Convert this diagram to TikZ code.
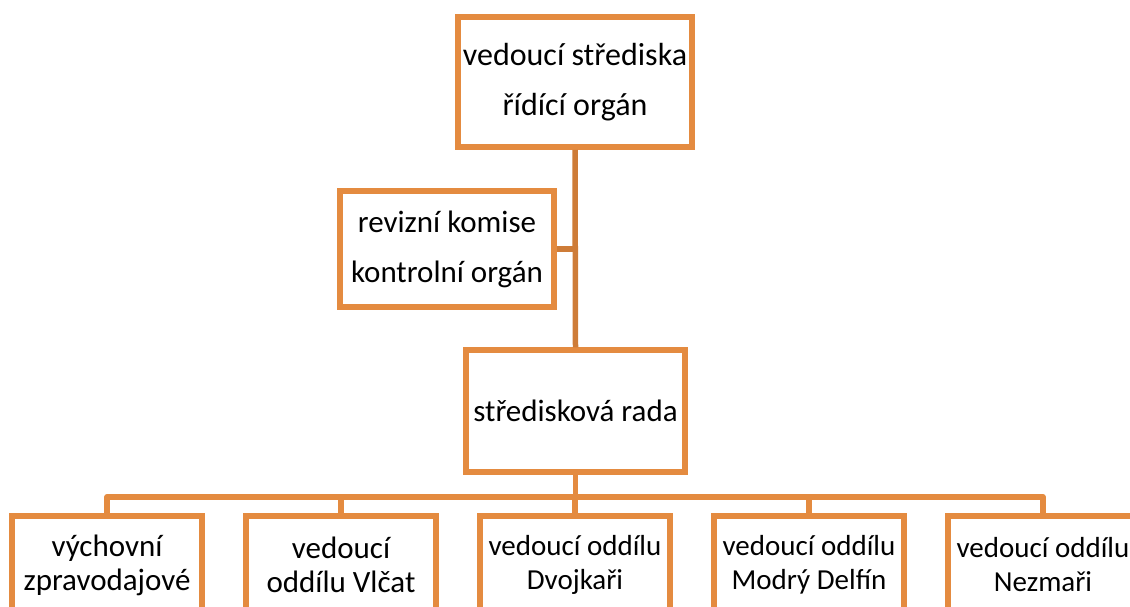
\documentclass[tikz,border=0pt]{standalone}
\usepackage{fontspec}
\setmainfont{Carlito}
\usetikzlibrary{positioning}

\definecolor{boxorange}{RGB}{228,139,64}
\definecolor{lineorange}{RGB}{206,124,56}

\begin{document}
\begin{tikzpicture}[
x=1pt,
y=-1pt,
unit/.style={
  draw=boxorange,
  fill=white,
  line width=5.5pt,
  align=center,
  inner sep=0pt
  },
upper/.style={
  unit,
  font=\fontsize{32}{50}\selectfont
  },
lower/.style={
  unit,
  minimum width=190pt,
  minimum height=98pt
  },
link/.style={
  draw=lineorange,
  line width=5.5pt,
  line join=round
  }
]

\useasboundingbox (0,0) rectangle (1130,606);
\clip (0,0) rectangle (1130,606);

\node[upper, minimum width=234pt, minimum height=130pt] (lead) at (575,82)
  {vedoucí střediska\\řídící orgán};
\node[upper, font=\fontsize{31}{50}\selectfont,
  minimum width=214pt, minimum height=116pt] (rev) at (447,249)
  {revizní komise\\kontrolní orgán};
\node[upper, font=\fontsize{31}{50}\selectfont,
  minimum width=219pt, minimum height=122pt] (council) at (575.5,411)
  {středisková rada};

\foreach \txt/\fs [count=\i] in {
  {výchovní\\zpravodajové}/31,
  {vedoucí\\oddílu Vlčat}/31,
  {vedoucí oddílu\\Dvojkaři}/29,
  {vedoucí oddílu\\Modrý Delfín}/29,
  {vedoucí oddílu\\Nezmaři}/29}
  \node[lower, font=\fontsize{\fs}{34}\selectfont] (o\i) at ({107+234*(\i-1)},565) {\txt};

% connectors
\draw[link] (lead.south) -- (council.north);
\draw[link] (rev.east) -- (rev.east -| lead.south);
\coordinate (bus) at ([yshift=-22pt]council.south);
\draw[link, draw=boxorange] (council.south) -- (bus);
\draw[link, draw=boxorange] (o1.north) |- (bus) -| (o5.north);
\foreach \i in {2,3,4}
  \draw[link, draw=boxorange] (bus -| o\i.north) -- (o\i.north);
\end{tikzpicture}
\end{document}
